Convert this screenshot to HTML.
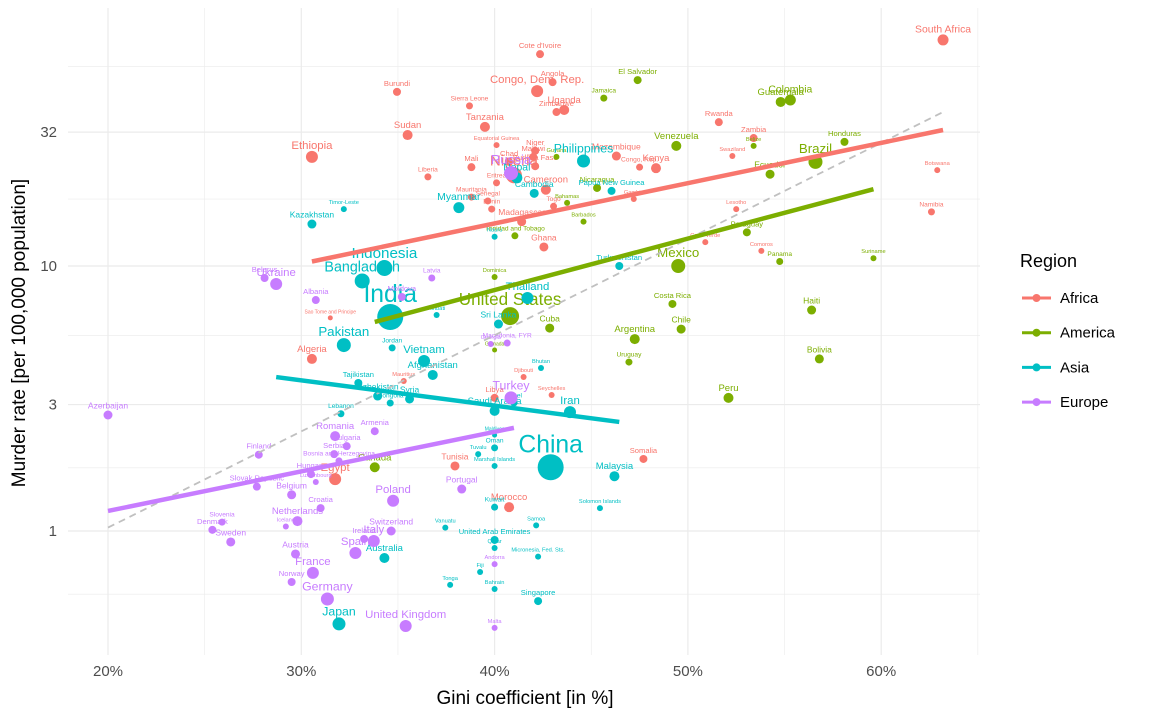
<!DOCTYPE html>
<html><head><meta charset="utf-8"><style>
html,body{margin:0;padding:0;background:#fff;}
svg{display:block;font-family:"Liberation Sans",Arial,sans-serif;}
</style></head><body>
<svg id="chart" width="1152" height="720" viewBox="0 0 1152 720">
<g id="grid"></g>
<g id="fits"></g>
<g id="pts"></g>
<g id="axes"></g>
<text x="525" y="704" text-anchor="middle" font-size="19" fill="#000">Gini coefficient [in %]</text>
<text transform="translate(25,333) rotate(-90)" text-anchor="middle" font-size="19" fill="#000">Murder rate [per 100,000 population]</text>
<g id="legend">
<text x="1020" y="267" font-size="18" fill="#000">Region</text>
</g>
</svg>
<script>
const regions=["Africa","America","Asia","Europe"];
const regionColors=["#F8766D","#7CAE00","#00BFC4","#C77CFF"];
const xTicks=[20,30,40,50,60];
const xTickLabels=["20%","30%","40%","50%","60%"];
const yTicks=[1,3,10,32];
const yTickLabels=["1","3","10","32"];
const names=["South Africa","Cote d'Ivoire","Congo, Dem. Rep.","Angola","Burundi","Sierra Leone","Uganda","Zimbabwe","Tanzania","Rwanda","Zambia","Sudan","Ethiopia","Equatorial Guinea","Niger","Malawi","Mozambique","Swaziland","Congo, Rep.","Kenya","Mali","Liberia","Chad","Burkina Faso","Nigeria","Eritrea","Cameroon","Mauritania","Senegal","Benin","Togo","Madagascar","Gambia","Lesotho","Botswana","Namibia","Ghana","Cape Verde","Comoros","Algeria","Sao Tome and Principe","Mauritius","Djibouti","Seychelles","Libya","Somalia","Tunisia","Egypt","Morocco",
"El Salvador","Jamaica","Colombia","Guatemala","Honduras","Belize","Venezuela","Brazil","Ecuador","Guyana","Nicaragua","Bahamas","Barbados","Trinidad and Tobago","Paraguay","Panama","Suriname","Mexico","Dominica","United States","Costa Rica","Haiti","Cuba","Chile","Argentina","Grenada","Uruguay","Bolivia","Peru","Canada",
"Philippines","Nepal","Cambodia","Papua New Guinea","Timor-Leste","Myanmar","Kazakhstan","Nauru","Indonesia","Bangladesh","Turkmenistan","India","Thailand","Sri Lanka","Kiribati","Pakistan","Jordan","Vietnam","Afghanistan","Bhutan","Tajikistan","Uzbekistan","Mongolia","Syria","Saudi Arabia","Israel","Iran","Lebanon","China","Maldives","Oman","Tuvalu","Marshall Islands","Malaysia","Kuwait","Solomon Islands","Samoa","Vanuatu","United Arab Emirates","Qatar","Micronesia, Fed. Sts.","Australia","Fiji","Bahrain","Tonga","Singapore","Japan",
"Russia","Latvia","Ukraine","Belarus","Albania","Moldova","Macedonia, FYR","Georgia","Turkey","Azerbaijan","Armenia","Romania","Bulgaria","Finland","Serbia","Bosnia and Herzegovina","Hungary","Luxembourg","Slovak Republic","Belgium","Portugal","Poland","Croatia","Netherlands","Iceland","Slovenia","Denmark","Sweden","Switzerland","Ireland","Italy","Spain","Austria","France","Norway","Germany","United Kingdom","Malta","Andorra"];
const regionIdx=[0,0,0,0,0,0,0,0,0,0,0,0,0,0,0,0,0,0,0,0,0,0,0,0,0,0,0,0,0,0,0,0,0,0,0,0,0,0,0,0,0,0,0,0,0,0,0,0,0,
1,1,1,1,1,1,1,1,1,1,1,1,1,1,1,1,1,1,1,1,1,1,1,1,1,1,1,1,1,1,
2,2,2,2,2,2,2,2,2,2,2,2,2,2,2,2,2,2,2,2,2,2,2,2,2,2,2,2,2,2,2,2,2,2,2,2,2,2,2,2,2,2,2,2,2,2,2,
3,3,3,3,3,3,3,3,3,3,3,3,3,3,3,3,3,3,3,3,3,3,3,3,3,3,3,3,3,3,3,3,3,3,3,3,3,3,3];
const gini=[63.2,42.35,42.2,43.0,34.95,38.7,43.6,43.2,39.5,51.6,53.4,35.5,30.55,40.1,42.1,42.0,46.3,52.3,47.5,48.35,38.8,36.55,40.75,42.1,41.0,40.1,42.65,38.8,39.65,39.85,43.05,41.4,47.2,52.5,62.9,62.6,42.55,50.9,53.8,30.55,31.5,35.3,41.5,42.95,40.0,47.7,37.95,31.75,40.75,
47.4,45.65,55.3,54.8,58.1,53.4,49.4,56.6,54.25,43.2,45.3,43.75,44.6,41.05,53.05,54.75,59.6,49.5,40.0,40.8,49.2,56.4,42.85,49.65,47.25,40.0,46.95,56.8,52.1,33.8,
44.6,41.15,42.05,46.05,32.2,38.15,30.55,40.0,34.3,33.15,46.45,34.6,41.7,40.2,37.0,32.2,34.7,36.35,36.8,42.4,32.95,33.95,34.6,35.6,40.0,41.0,43.9,32.05,42.9,40.0,40.0,39.15,40.0,46.2,40.0,45.45,42.15,37.45,40.0,40.0,42.25,34.3,39.25,40.0,37.7,42.25,31.95,
40.85,36.75,28.7,28.1,30.75,35.2,40.65,39.8,40.85,20.0,33.8,31.75,32.35,27.8,31.7,31.95,30.5,30.75,27.7,29.5,38.3,34.75,31.0,29.8,29.2,25.9,25.4,26.35,34.65,33.25,33.75,32.8,29.7,30.6,29.5,31.35,35.4,40.0,40.0];
const murder=[71.3,63,45.7,49.4,45.4,40.2,38.8,38.1,33.5,34.9,30.4,31.2,25.8,28.6,27.2,25.8,26.0,26.0,23.6,23.4,23.6,21.7,24.7,23.8,22.0,20.6,19.4,18.2,17.6,16.4,16.8,14.7,17.9,16.4,23.0,16.0,11.8,12.3,11.4,4.46,6.37,3.68,3.81,3.26,3.18,1.87,1.76,1.57,1.23,
50.3,43.0,42.3,41.6,29.4,28.4,28.4,24.7,22.2,25.8,19.7,17.3,14.7,13.0,13.4,10.4,10.7,10.0,9.09,6.47,7.19,6.82,5.83,5.78,5.3,4.82,4.34,4.46,3.18,1.74,
24.9,21.5,18.8,19.2,16.4,16.6,14.4,12.9,9.83,8.78,10.0,6.42,7.57,6.04,6.53,5.03,4.91,4.38,3.88,4.12,3.62,3.23,3.04,3.15,2.84,3.04,2.81,2.77,1.74,2.30,2.06,1.95,1.76,1.61,1.23,1.22,1.05,1.03,0.925,0.863,0.80,0.791,0.70,0.604,0.626,0.544,0.446,
22.4,9.01,8.55,9.01,7.44,7.64,5.12,5.08,3.18,2.74,2.38,2.28,2.09,1.94,1.95,1.84,1.64,1.53,1.47,1.37,1.44,1.30,1.22,1.09,1.04,1.08,1.01,0.909,1.0,0.933,0.917,0.826,0.819,0.695,0.642,0.554,0.438,0.431,0.75];
const pop=[5.5,4,6,4,4,3.5,5,4,5,4,4,5,6,3,4,4,4.5,3,3.5,5,4,3.5,4,4,8,3.5,5,3.5,3.5,3.5,3.5,4.5,3,3,3,3.5,4.5,3,3,5,2.5,3,3,3,4,4,4.5,6,5,
4,3.5,5.5,5,4,3,5,7,4.5,3,4,3,3,3.5,4,3.5,3,7,3,9,4,4.5,4.5,4.5,5,2.5,3.5,4.5,5,5,
6.5,5.5,4.5,4,3,5.5,4.5,3,8,7.5,4,13,6,4.5,3,7,3.5,6,5,3,4,4.5,3.5,4.5,5,3.5,6,3.5,13,2.5,3.5,3,3,5,3.5,3,3,3,4,3,3,5,3,3,3,4,6.5,
7,3.5,6,4,4,4,3.5,3,6.5,4.5,4,5,4,4,4,3.5,4,3,4,4.5,4.5,6,4,5,3,3.5,4,4.5,4.5,4,6,6,4.5,6,4,6.5,6,3,3];
const fitGini0=[30.55,33.8,28.7,20.0];
const fitGini1=[63.2,59.6,46.45,41.0];
const fitMurder0=[10.4,6.15,3.81,1.19];
const fitMurder1=[32.6,19.5,2.58,2.45];
const refGini=[20,63.2];
const refMurder=[1.03,38.1];

const NS="http://www.w3.org/2000/svg";
const X0=68,X1=980,Y0=8,Y1=655;
function xs(g){return 108+(g-20)*19.33;}
function ys(m){return 531-265*Math.log10(m);}
function mk(tag,attrs,parent){const e=document.createElementNS(NS,tag);for(const k in attrs)e.setAttribute(k,attrs[k]);parent.appendChild(e);return e;}
const grid=document.getElementById('grid');
mk('rect',{x:X0,y:Y0,width:X1-X0,height:Y1-Y0,fill:'#fff'},grid);
for(let i=0;i<xTicks.length;i++){
  const gx=xs(xTicks[i]+5);
  const l=mk('line',{x1:gx,x2:gx,y1:Y0,y2:Y1,stroke:'#ebebeb','stroke-width':0.6},grid);
  
  
}
const ext=[yTicks[0]/3].concat(yTicks).concat([100]);
for(let i=0;i<ext.length-1;i++){
  const gy=ys(Math.sqrt(ext[i]*ext[i+1]));
  if(gy<Y0||gy>Y1)continue;
  const l=mk('line',{x1:X0,x2:X1,y1:gy,y2:gy,stroke:'#ebebeb','stroke-width':0.6},grid);
  
  
}
const axes=document.getElementById('axes');
for(let i=0;i<xTicks.length;i++){
  const gx=xs(xTicks[i]);
  const l=mk('line',{x1:gx,x2:gx,y1:Y0,y2:Y1,stroke:'#ebebeb','stroke-width':1.2},grid);
  
  
  const t=mk('text',{x:gx,y:676,'text-anchor':'middle','font-size':15,fill:'#4d4d4d'},axes);
  t.textContent=xTickLabels[i];
  
  
}
for(let i=0;i<yTicks.length;i++){
  const gy=ys(yTicks[i]);
  const l=mk('line',{x1:X0,x2:X1,y1:gy,y2:gy,stroke:'#ebebeb','stroke-width':1.2},grid);
  
  
  const t=mk('text',{x:57,y:gy+5,'text-anchor':'end','font-size':15,fill:'#4d4d4d'},axes);
  t.textContent=yTickLabels[i];
  
  
}
const fits=document.getElementById('fits');
const rl=mk('line',{x1:xs(refGini[0]),y1:ys(refMurder[0]),x2:xs(refGini[1]),y2:ys(refMurder[1]),stroke:'#c0c0c0','stroke-width':1.8,'stroke-dasharray':'7,5'},fits);


const pts=document.getElementById('pts');
for(let i=0;i<names.length;i++){
  const r=pop[i];
  const px=xs(gini[i]),py=ys(murder[i]);
  const c=regionColors[regionIdx[i]];
  const d=mk('circle',{cx:px,cy:py,r:r,fill:c},pts);
  
  
  const fs=Math.max(5,r*1.9);
  const t=mk('text',{x:px,y:py-r-2,'text-anchor':'middle','font-size':fs.toFixed(1),fill:c},pts);
  t.textContent=names[i];
  
  
}
for(let k=0;k<regions.length;k++){
  const l=mk('line',{x1:xs(fitGini0[k]),y1:ys(fitMurder0[k]),x2:xs(fitGini1[k]),y2:ys(fitMurder1[k]),stroke:regionColors[k],'stroke-width':4.5},fits);
  
  
}
document.getElementById('chart').insertBefore(pts,fits);
const lg=document.getElementById('legend');
for(let k=0;k<regions.length;k++){
  const y=298+k*34.7;
  const g=mk('g',{},lg);
  
  
  mk('line',{x1:1022,x2:1051,y1:y,y2:y,stroke:regionColors[k],'stroke-width':3},g);
  mk('circle',{cx:1036.5,cy:y,r:4,fill:regionColors[k]},g);
  const t=mk('text',{x:1060,y:y+5,'font-size':15,fill:'#000'},g);
  t.textContent=regions[k];
}
</script>
</body></html>
